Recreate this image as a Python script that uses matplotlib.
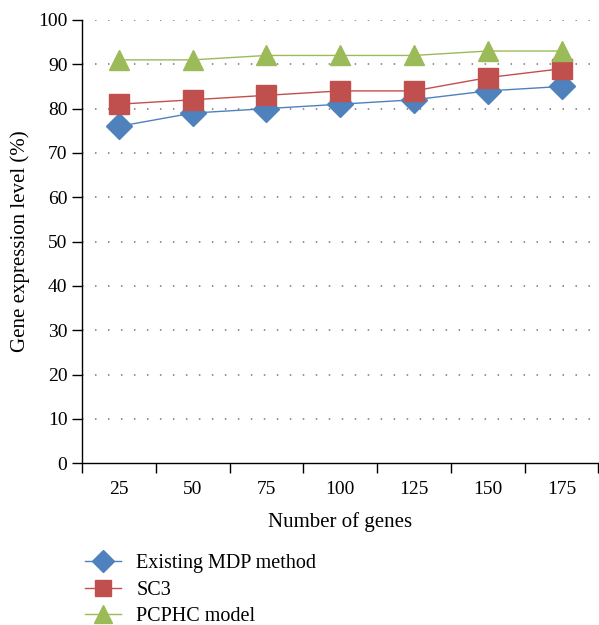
import numpy as np
import matplotlib.pyplot as plt

plt.rcParams['font.family'] = 'Liberation Serif'

genes = ['25', '50', '75', '100', '125', '150', '175']
mdp = [76, 79, 80, 81, 82, 84, 85]
sc3 = [81, 82, 83, 84, 84, 87, 89]
pcphc = [91, 91, 92, 92, 92, 93, 93]

fig = plt.figure(figsize=(5.99, 6.25), dpi=100)
ax = fig.add_axes([0.137, 0.259, 0.862, 0.709])

x = np.arange(1, len(genes) + 1)
ax.plot(x, mdp, color='#4F81BD', lw=1, marker='D', ms=13, label='Existing MDP method')
ax.plot(x, sc3, color='#C0504D', lw=1, marker='s', ms=14, label='SC3')
ax.plot(x, pcphc, color='#9BBB59', lw=1, marker='^', ms=15, label='PCPHC model')

ax.set_xlim(0.5, len(genes) + 0.5)
ax.set_ylim(0, 100)
ax.set_yticks(range(0, 101, 10))
ax.set_xticks(x)
ax.set_xticklabels(genes, fontsize=14)
ax.set_xticks(np.arange(0.5, len(genes) + 1, 1), minor=True)
ax.tick_params(axis='x', which='major', length=0, pad=13)
ax.tick_params(axis='x', which='minor', length=7, width=1, direction='out')
ax.tick_params(axis='y', labelsize=14, length=7, width=1, direction='out')

# dotted horizontal grid
for y in range(10, 101, 10):
    ax.axhline(y, color='#777777', lw=1.1, ls=(0, (1, 7.5)), zorder=0)

for s in ['top', 'right']:
    ax.spines[s].set_visible(False)
ax.spines['left'].set_linewidth(1)
ax.spines['bottom'].set_linewidth(1)

ax.set_xlabel('Number of genes', fontsize=15, labelpad=10)
ax.set_ylabel('Gene expression level (%)', fontsize=15, labelpad=6)

ax.legend(loc='upper left', bbox_to_anchor=(0.125, 0.13), bbox_transform=fig.transFigure,
          frameon=False, fontsize=14.5, handlelength=1.8, handletextpad=0.75,
          labelspacing=0.38, borderpad=0, markerscale=0.85)

fig.savefig('out.png', dpi=100)
